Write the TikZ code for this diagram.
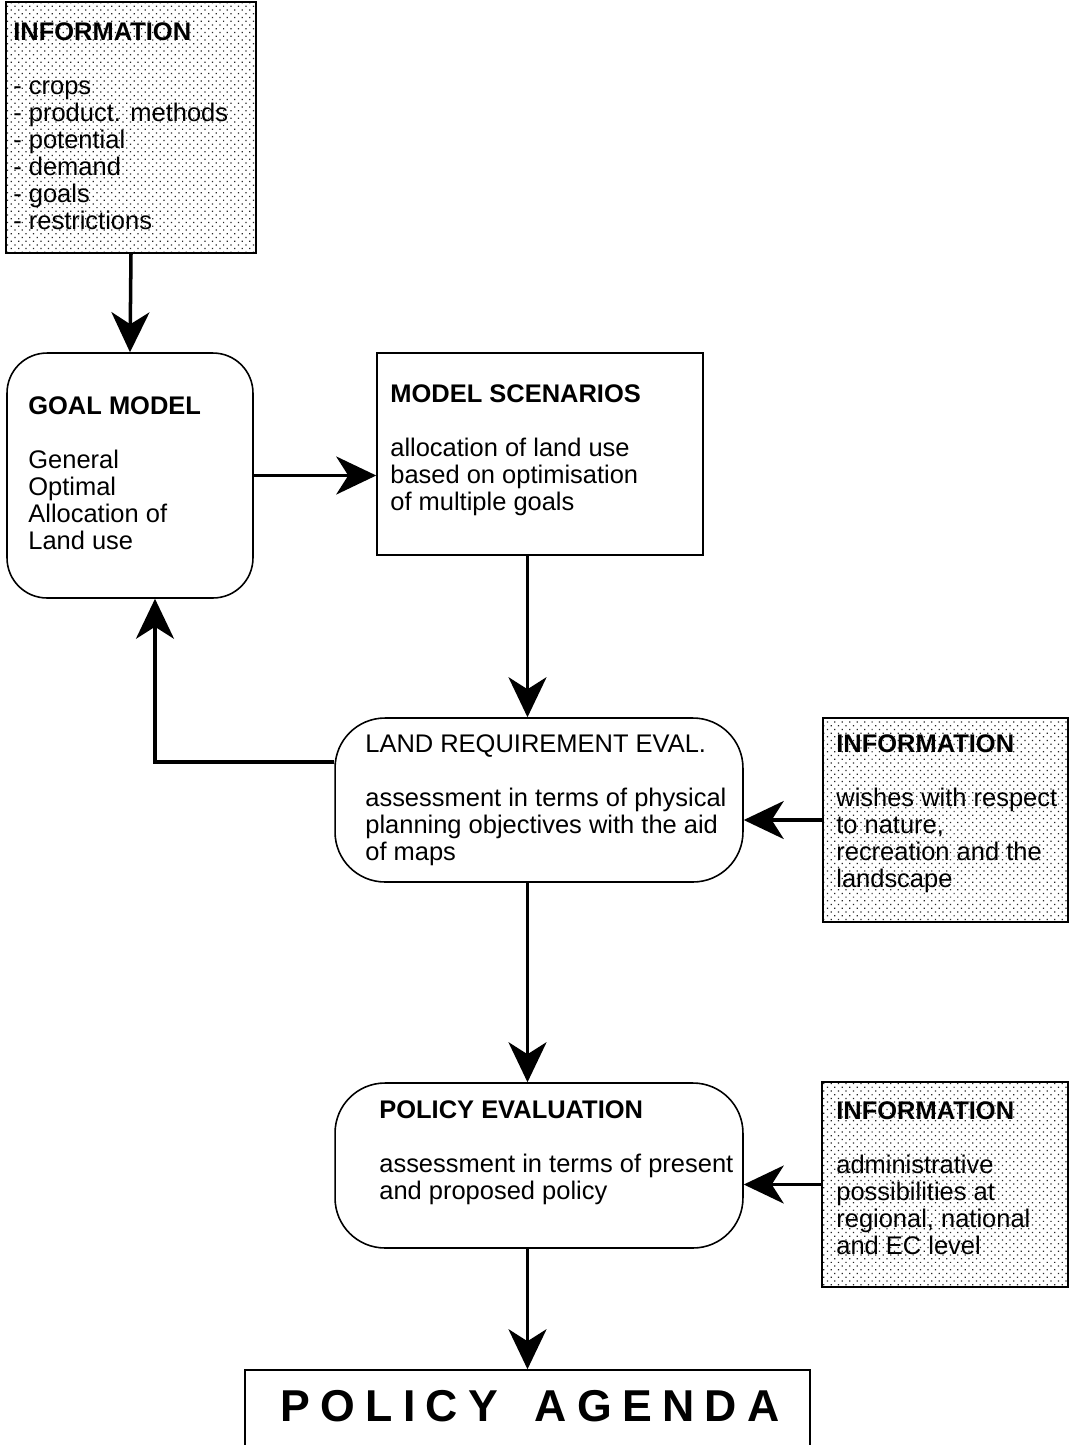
\documentclass[tikz,border=0pt]{standalone}
\usepackage{fontspec}
\setmainfont{Liberation Sans}
\newfontfamily\agendafont[LetterSpace=23]{Liberation Sans}
\usetikzlibrary{arrows.meta,patterns.meta}

\begin{document}
\begin{tikzpicture}[x=0.02cm, y=-0.02cm,
	box/.style={draw, line width=0.9pt, inner sep=0pt},
	roundbox/.style={box, rounded corners=0.8cm},
	infobox/.style={box, pattern={Dots[distance=3pt, angle=45, radius=0.5pt]}, pattern color=black!85},
	txt/.style={anchor=north west, align=left, inner sep=0pt, font=\fontsize{14.5}{15.4}\selectfont},
	flow/.style={line width=2pt, -{Stealth[length=0.8cm, width=0.76cm, inset=0.24cm]}}]
	
	\useasboundingbox (0,0) rectangle (1073,1445);
	
	% information on crops etc.
	\node [infobox, minimum width=5cm, minimum height=5.02cm] (info1) at (131,127.5) {};
	\node [txt] (info1txt) at (13,22) {\textbf{INFORMATION}\\[15.4pt]- crops\\- product. methods\\- potential\\- demand\\- goals\\- restrictions};
	
	% goal model
	\node [roundbox, minimum width=4.92cm, minimum height=4.9cm] (goal) at (130,475.5) {};
	\node [txt] (goaltxt) at (28,396) {\textbf{GOAL MODEL}\\[15.4pt]General\\Optimal\\Allocation of\\Land use};
	
	% model scenarios
	\node [box, minimum width=6.52cm, minimum height=4.04cm] (scen) at (540,454) {};
	\node [txt] (scentxt) at (390,384) {\textbf{MODEL SCENARIOS}\\[15.4pt]allocation of land use\\based on optimisation\\of multiple goals};
	
	% land requirement evaluation
	\node [roundbox, rounded corners=1cm, minimum width=8.16cm, minimum height=3.28cm] (land) at (539,800) {};
	\node [txt] (landtxt) at (365,734) {LAND REQUIREMENT EVAL.\\[15.4pt]assessment in terms of physical\\planning objectives with the aid\\of maps};
	
	% information on nature
	\node [infobox, minimum width=4.9cm, minimum height=4.08cm] (info2) at (945.5,820) {};
	\node [txt] (info2txt) at (836,734) {\textbf{INFORMATION}\\[15.4pt]wishes with respect\\to nature,\\recreation and the\\landscape};
	
	% policy evaluation
	\node [roundbox, rounded corners=1cm, minimum width=8.16cm, minimum height=3.3cm] (pol) at (539,1165.5) {};
	\node [txt] (poltxt) at (379,1100) {\textbf{POLICY EVALUATION}\\[15.4pt]assessment in terms of present\\and proposed policy};
	
	% information on administration
	\node [infobox, minimum width=4.92cm, minimum height=4.1cm] (info3) at (945,1184.5) {};
	\node [txt] (info3txt) at (836,1101) {\textbf{INFORMATION}\\[15.4pt]administrative\\possibilities at\\regional, national\\and EC level};
	
	% policy agenda
	\node [box, minimum width=11.3cm, minimum height=2cm] (agenda) at (527.5,1420) {};
	\node [inner sep=0pt, font=\agendafont\bfseries\fontsize{25.4}{30}\selectfont] (agendatxt) at (530,1406) {POLICY\hspace{21pt}AGENDA};
	
	% arrows
	\draw [flow] (info1.south) -- (goal.north);
	\draw [flow] (goal.east) -- (goal.east -| scen.west);
	\draw [flow] (scen.south -| agenda.north) -- (land.north -| agenda.north);
	\draw [flow] ([yshift=0.76cm]land.west) -| ([xshift=0.5cm]goal.south);
	\draw [flow] (info2.west) -- (info2.west -| land.east);
	\draw [flow] (land.south -| agenda.north) -- (pol.north -| agenda.north);
	\draw [flow] (info3.west) -- (info3.west -| pol.east);
	\draw [flow] (pol.south -| agenda.north) -- (agenda.north);
	
\end{tikzpicture}
\end{document}
